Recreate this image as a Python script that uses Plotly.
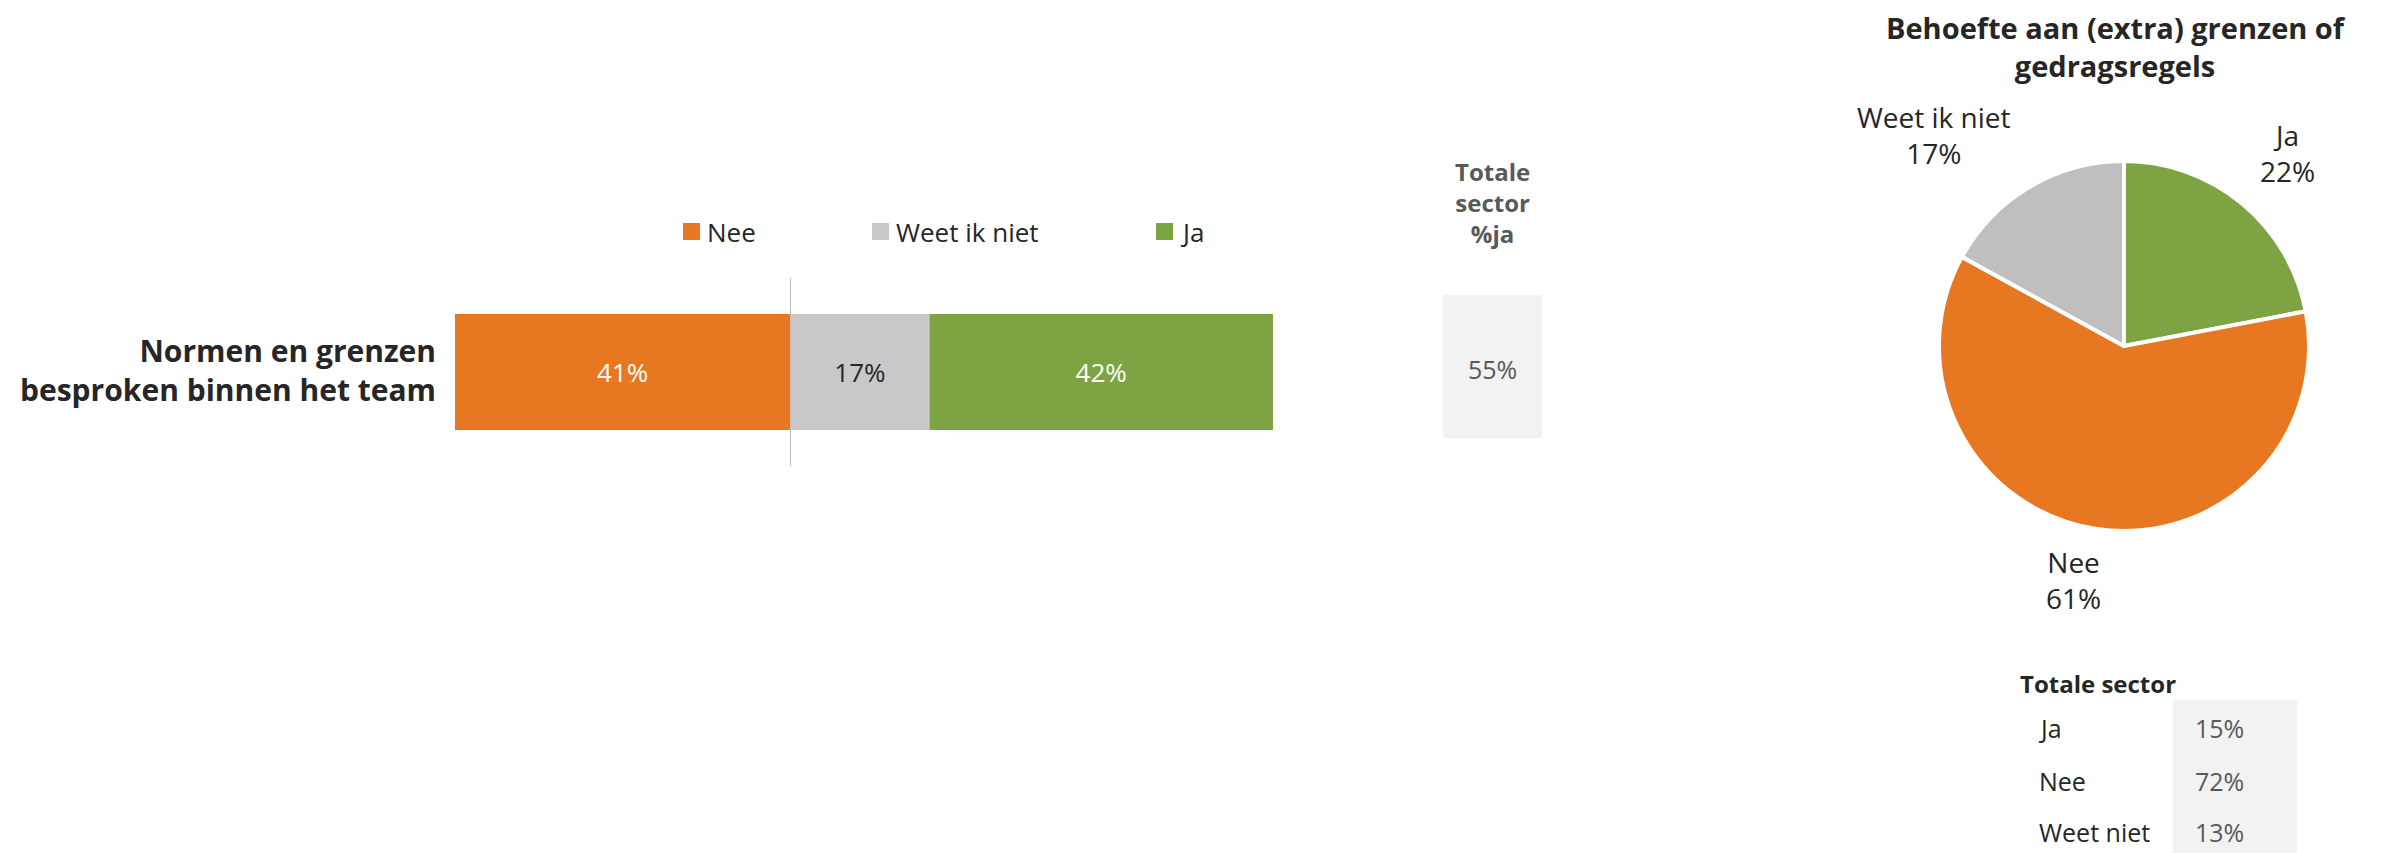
import plotly.graph_objects as go

W, H = 2396, 853
FONT = "Open Sans"
DARK = "#262626"
GREY_TXT = "#595959"

# ---------------- data ----------------
categories = ["Normen en grenzen<br>besproken binnen het team"]
bar_series = ["Nee", "Weet ik niet", "Ja"]
bar_values = [41, 17, 42]
bar_colors = ["#E87722", "#C8C8CA", "#7EA343"]
bar_text_colors = ["#FFFFFF", DARK, "#FFFFFF"]
sector_ja_header = "Totale<br>sector<br>%ja"
sector_ja = 55

pie_title = "Behoefte aan (extra) grenzen of<br>gedragsregels"
pie_labels = ["Ja", "Nee", "Weet ik niet"]
pie_values = [22, 61, 17]
pie_colors = ["#7EA343", "#E87722", "#BFBFBF"]

table_title = "Totale sector"
table_labels = ["Ja", "Nee", "Weet niet"]
table_values = [15, 72, 13]


def px(x):
    return x / W


def py(y):
    return 1 - y / H


fig = go.Figure()

# ---------------- diverging stacked bar ----------------
signs = [-1, 1, 1]
for name, v, s, c, tc in zip(bar_series, bar_values, signs, bar_colors, bar_text_colors):
    fig.add_trace(go.Bar(
        y=categories, x=[s * v], orientation="h", name=name,
        marker=dict(color=c, line=dict(width=0)),
        text=[f"{v}%"], textposition="inside", insidetextanchor="middle",
        textangle=0, textfont=dict(family=FONT, size=26, color=tc),
        width=0.618, showlegend=False, hoverinfo="skip",
        xaxis="x", yaxis="y",
    ))

fig.update_layout(
    barmode="relative",
    xaxis=dict(domain=[px(455), px(1273)],
               range=[-bar_values[0], bar_values[1] + bar_values[2]],
               showgrid=False, showticklabels=False, ticks="",
               zeroline=True, zerolinecolor="#BFBFBF", zerolinewidth=1,
               fixedrange=True),
    yaxis=dict(domain=[py(466), py(278)], range=[-0.5, 0.5],
               showgrid=False, showticklabels=False, ticks="", zeroline=False,
               fixedrange=True),
)

annotations = []
shapes = []

# category label
annotations.append(dict(
    x=px(438), y=py(370), xref="paper", yref="paper", xanchor="right", yanchor="middle",
    text=f"<b>{categories[0]}</b>", showarrow=False, align="right",
    font=dict(family=FONT, size=30, color=DARK)))

# legend (manual)
leg_sq_x = [683, 872, 1156]
for name, c, lx in zip(bar_series, bar_colors, leg_sq_x):
    shapes.append(dict(type="rect", xref="paper", yref="paper",
                       x0=px(lx), x1=px(lx + 17), y0=py(240), y1=py(223),
                       fillcolor=c, line=dict(width=0)))
    annotations.append(dict(
        x=px(lx + 22), y=py(232), xref="paper", yref="paper", xanchor="left", yanchor="middle",
        text=name, showarrow=False, font=dict(family=FONT, size=26, color=DARK)))

# totale sector %ja
annotations.append(dict(
    x=px(1492), y=py(203), xref="paper", yref="paper", xanchor="center", yanchor="middle",
    text=f"<b>{sector_ja_header}</b>", showarrow=False, align="center",
    font=dict(family=FONT, size=24, color=GREY_TXT)))
shapes.append(dict(type="rect", xref="paper", yref="paper",
                   x0=px(1443), x1=px(1542), y0=py(438), y1=py(295),
                   fillcolor="#F2F2F2", line=dict(width=0), layer="below"))
annotations.append(dict(
    x=px(1492), y=py(369), xref="paper", yref="paper", xanchor="center", yanchor="middle",
    text=f"{sector_ja}%", showarrow=False,
    font=dict(family=FONT, size=25, color=GREY_TXT)))

# ---------------- pie ----------------
fig.add_trace(go.Pie(
    labels=pie_labels, values=pie_values, sort=False, direction="clockwise", rotation=0,
    marker=dict(colors=pie_colors, line=dict(color="#FFFFFF", width=4)),
    textinfo="none", hoverinfo="skip", showlegend=False,
    domain=dict(x=[px(1939), px(2309)], y=[py(531), py(161)]),
))

annotations.append(dict(
    x=px(2116), y=py(46), xref="paper", yref="paper", xanchor="center", yanchor="middle",
    text=f"<b>{pie_title}</b>", showarrow=False, align="center",
    font=dict(family=FONT, size=29, color=DARK)))

pie_label_pos = [(2287, 153), (2073, 580), (1934, 135)]
for lab, v, (lx, ly) in zip(pie_labels, pie_values, pie_label_pos):
    annotations.append(dict(
        x=px(lx), y=py(ly), xref="paper", yref="paper", xanchor="center", yanchor="middle",
        text=f"{lab}<br>{v}%", showarrow=False, align="center",
        font=dict(family=FONT, size=28, color=DARK)))

# ---------------- table ----------------
annotations.append(dict(
    x=px(2018), y=py(683), xref="paper", yref="paper", xanchor="left", yanchor="middle",
    text=f"<b>{table_title}</b>", showarrow=False,
    font=dict(family=FONT, size=24, color=DARK)))
shapes.append(dict(type="rect", xref="paper", yref="paper",
                   x0=px(2173), x1=px(2297), y0=py(853), y1=py(700),
                   fillcolor="#F2F2F2", line=dict(width=0), layer="below"))
row_y = [728, 781, 832]
for lab, v, ry in zip(table_labels, table_values, row_y):
    annotations.append(dict(
        x=px(2037), y=py(ry), xref="paper", yref="paper", xanchor="left", yanchor="middle",
        text=lab, showarrow=False, font=dict(family=FONT, size=25, color=DARK)))
    annotations.append(dict(
        x=px(2193), y=py(ry), xref="paper", yref="paper", xanchor="left", yanchor="middle",
        text=f"{v}%", showarrow=False, font=dict(family=FONT, size=25, color=GREY_TXT)))

fig.update_layout(
    width=W, height=H,
    margin=dict(l=0, r=0, t=0, b=0),
    paper_bgcolor="#FFFFFF", plot_bgcolor="rgba(0,0,0,0)",
    annotations=annotations, shapes=shapes,
    font=dict(family=FONT, color=DARK),
    showlegend=False,
)

fig.write_html("out.html", config={"displayModeBar": False},
               post_script="document.body.style.margin='0';document.body.style.overflow='hidden';")
